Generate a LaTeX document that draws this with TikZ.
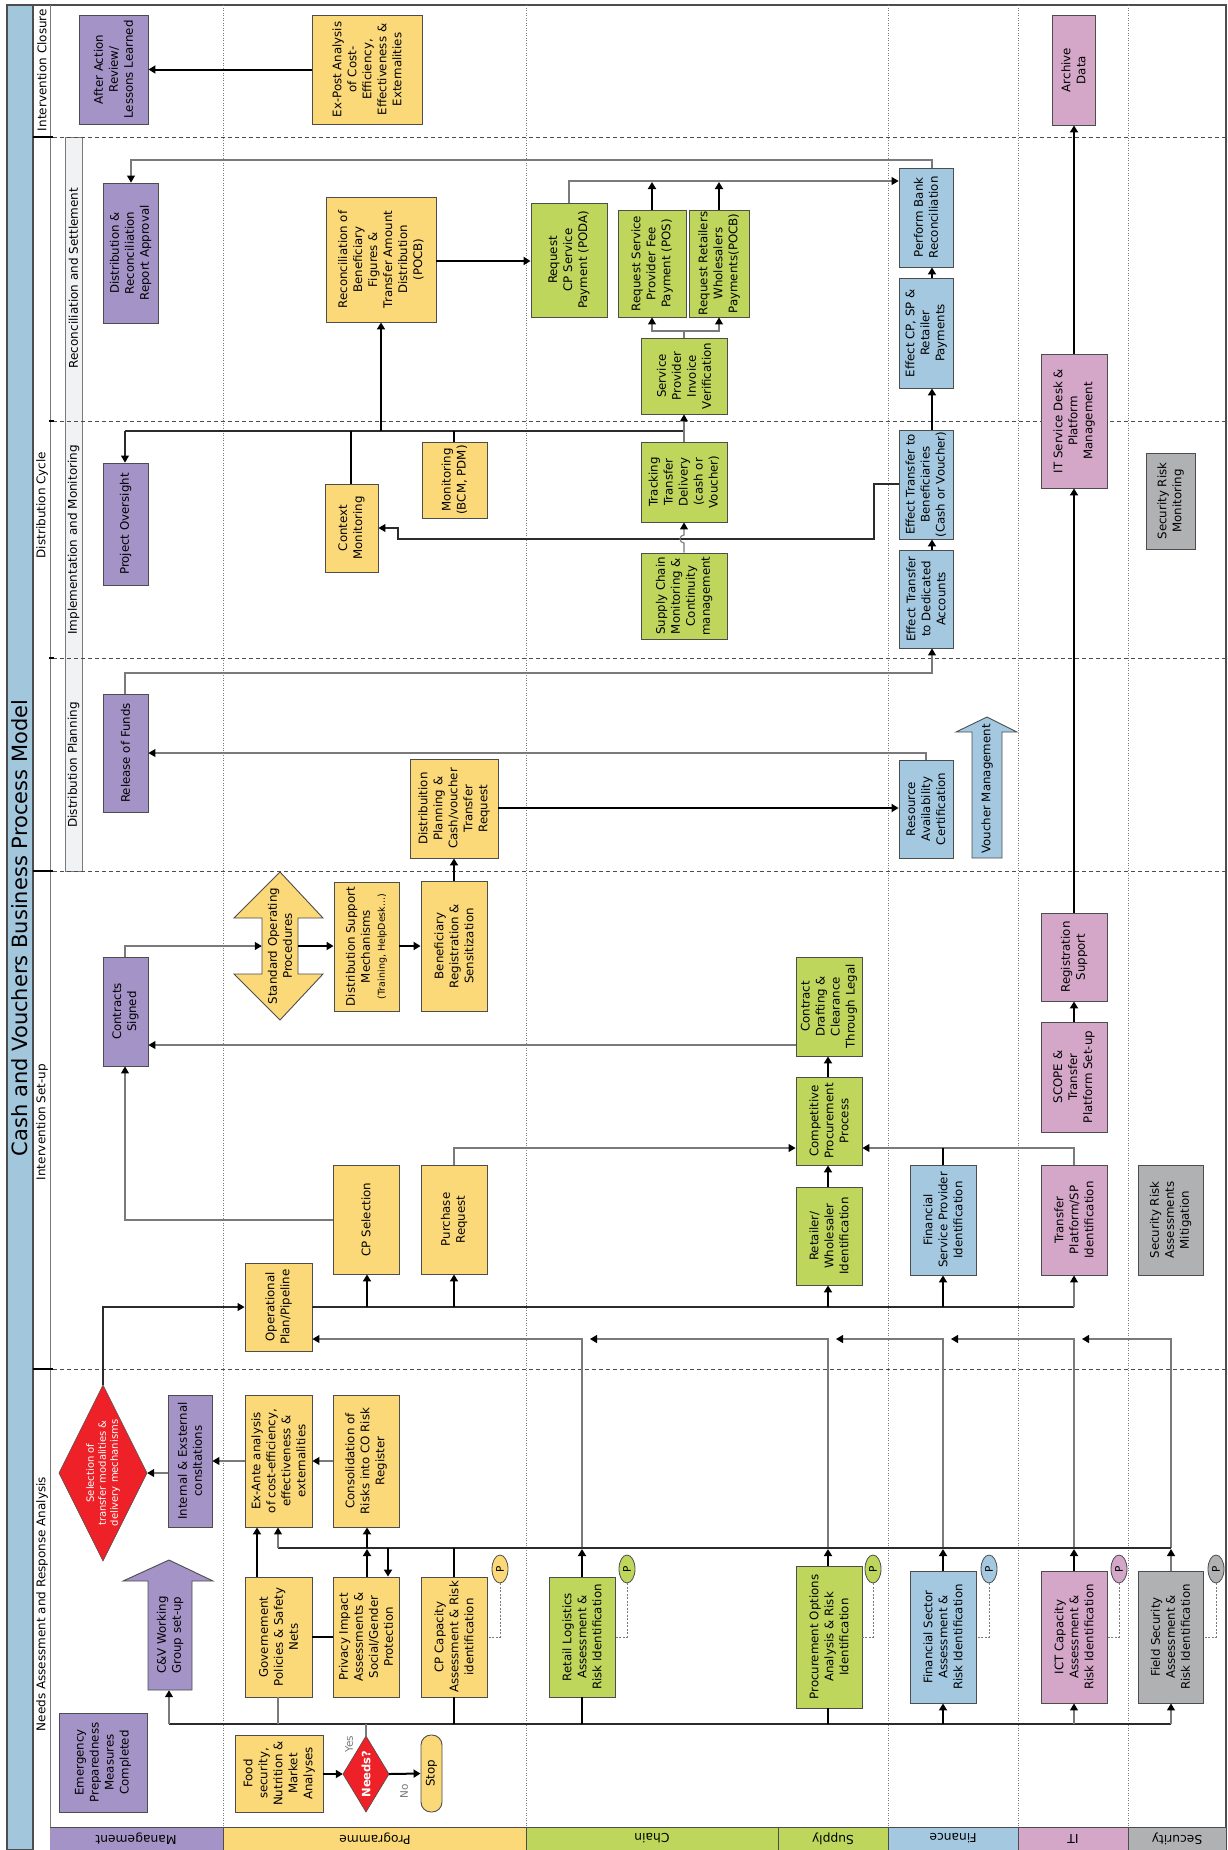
\documentclass[tikz,border=0pt]{standalone}
\usepackage{fontspec}
\setmainfont{DejaVu Sans}
\usetikzlibrary{arrows.meta,shapes.geometric}

\definecolor{cPur}{HTML}{A393C6}
\definecolor{cYel}{HTML}{FBD978}
\definecolor{cGrn}{HTML}{BDD65B}
\definecolor{cBlu}{HTML}{A3C8E0}
\definecolor{cPnk}{HTML}{D4A6C8}
\definecolor{cGry}{HTML}{AFB1B3}
\definecolor{cRed}{HTML}{EE2128}
\definecolor{cTitle}{HTML}{A2C6DC}
\definecolor{cSub}{HTML}{F1F2F4}
\definecolor{cEdge}{HTML}{4D4D4D}
\definecolor{cLine}{HTML}{7A7A7A}
\definecolor{cDark}{HTML}{2B2B2B}

% process box: name, x1, y1, x2, y2 (page pixels, y downwards), fill, text
\newcommand\procbox[7]{%
  \node[box,fill=#6,minimum width={((#5)-(#3))*1pt},minimum height={((#4)-(#2))*1pt}]
    (#1) at ({((#2)+(#4))/2},{((#3)+(#5))/2}) {#7};}

\begin{document}
\begin{tikzpicture}[x=1pt,y=-1pt,
  every node/.style={font=\fontsize{11.8}{15}\selectfont},
  box/.style={draw=cEdge, line width=0.9pt, rotate=90, align=center, inner sep=1pt},
  pel/.style={ellipse, draw=cEdge, line width=0.8pt, rotate=90, minimum width=28pt,
    minimum height=16pt, inner sep=0pt, font=\fontsize{10.5}{12}\selectfont},
  thk/.style={line width=2pt, draw=black},
  arr/.style={thk, -{Triangle[length=7pt,width=8pt]}},
  thn/.style={line width=1.1pt, draw=cDark},
  thnarr/.style={thn, -{Triangle[length=7pt,width=8pt,color=black]}},
  gry/.style={line width=1.1pt, draw=cLine},
  gryarr/.style={gry, -{Triangle[length=7pt,width=8pt,color=black]}},
  pdash/.style={line width=0.9pt, draw=cLine, dash pattern=on 2pt off 1.5pt},
  lanediv/.style={line width=0.9pt, draw=cLine, dash pattern=on 1pt off 1.5pt},
  phasediv/.style={line width=1pt, draw=cEdge, dash pattern=on 4pt off 3pt},
  tick/.style={line width=1.6pt, draw=black},
  phaselbl/.style={rotate=90, font=\fontsize{12}{14}\selectfont},
  lanelbl/.style={rotate=180, font=\fontsize{12.3}{14}\selectfont},
  dmd/.style={fill=cRed, draw=cEdge, line width=0.6pt}
]
\useasboundingbox (0,0) rectangle (1227,1850);
\fill[white] (0,0) rectangle (1227,1850);

% ---------- frame ----------
\fill[cTitle] (7,5) rectangle (33,1850);
\draw[cEdge, line width=1.2pt] (7,5) rectangle (33,1850);
\draw[cEdge, line width=1.2pt] (33,5) -- (1226,5) -- (1226,1850);
\draw[cLine, line width=1pt] (50,5) -- (50,1850);
\filldraw[fill=cSub, draw=cLine, line width=0.9pt] (65,137) rectangle (82,871);

% lane dividers
\foreach \lx in {223,526,888,1018,1128}
  \draw[lanediv] (\lx,5) -- (\lx,1827);

% phase dividers
\foreach \py in {137,421,658,871,1369}
  \draw[phasediv] (53,\py) -- (1226,\py);
\foreach \py in {137,871,1369}
  \draw[tick] (33,\py) -- (53,\py);
\foreach \py in {421,658}
  \draw[tick] (49,\py) -- (54,\py);

% lane label band
\fill[cPur] (50,1827) rectangle (223,1850);
\fill[cYel] (223,1827) rectangle (526,1850);
\fill[cGrn] (526,1827) rectangle (888,1850);
\fill[cBlu] (888,1827) rectangle (1018,1850);
\fill[cPnk] (1018,1827) rectangle (1128,1850);
\fill[cGry] (1128,1827) rectangle (1226,1850);
\draw[cEdge, line width=1pt] (50,1827) -- (1226,1827);
\foreach \lx in {223,526,778,888,1018,1128}
  \draw[cEdge, line width=1pt] (\lx,1827) -- (\lx,1850);

\node[lanelbl] (lnMgmt) at (136,1838.5) {Management};
\node[lanelbl] (lnProg) at (375,1838.5) {Programme};
\node[lanelbl] (lnChain) at (652,1838.5) {Chain};
\node[lanelbl] (lnSupply) at (833,1838.5) {Supply};
\node[lanelbl] (lnFin) at (953,1838.5) {Finance};
\node[lanelbl] (lnIT) at (1073,1838.5) {IT};
\node[lanelbl] (lnSec) at (1177,1838.5) {Security};

% title and phase labels
\node[rotate=90, font=\fontsize{21}{25}\selectfont] (title) at (20,928) {Cash and Vouchers Business Process Model};
\node[phaselbl] (phClose) at (42,70) {Intervention Closure};
\node[phaselbl] (phCycle) at (42,505) {Distribution Cycle};
\node[phaselbl] (phSetup) at (42,1122) {Intervention Set-up};
\node[phaselbl] (phNeeds) at (42,1604) {Needs Assessment and Response Analysis};
\node[phaselbl] (subRec) at (73.5,278) {Reconciliation and Settlement};
\node[phaselbl] (subImp) at (73.5,540) {Implementation and Monitoring};
\node[phaselbl] (subPlan) at (73.5,765) {Distribution Planning};

% ---------- intervention closure ----------
\procbox{aar}{79}{15}{148}{124}{cPur}{After Action\\Review/\\Lessons Learned}
\procbox{expost}{312}{15}{422}{124}{cYel}{Ex-Post Analysis\\of Cost-\\Efficiency,\\Effectiveness \&\\Externalities}
\procbox{archive}{1052}{15}{1095}{125}{cPnk}{Archive\\Data}

% ---------- reconciliation and settlement ----------
\procbox{drra}{103}{183}{158}{323}{cPur}{Distribution \&\\Reconciliation\\Report Approval}
\procbox{recon}{326}{197}{436}{322}{cYel}{Reconciliation of\\Beneficiary\\Figures \&\\Transfer Amount\\Distribution\\(POCB)}
\procbox{reqcp}{531}{203}{607}{317}{cGrn}{Request\\CP Service\\Payment (PODA)}
\procbox{reqsp}{618}{210}{686}{317}{cGrn}{Request Service\\Provider Fee\\Payment (POS)}
\procbox{reqret}{689}{210}{749}{317}{cGrn}{Request Retailers\\Wholesalers\\Payments(POCB)}
\procbox{spiv}{641}{338}{727}{414}{cGrn}{Service\\Provider\\Invoice\\Verification}
\procbox{bank}{899}{168}{953}{267}{cBlu}{Perform Bank\\Reconciliation}
\procbox{effcp}{899}{278}{953}{388}{cBlu}{Effect CP, SP \&\\Retailer\\Payments}
\procbox{itsd}{1041}{354}{1107}{488}{cPnk}{IT Service Desk \&\\Platform\\Management}

% ---------- implementation and monitoring ----------
\procbox{projov}{103}{463}{148}{585}{cPur}{Project Oversight}
\procbox{ctxmon}{325}{484}{378}{572}{cYel}{Context\\Monitoring}
\procbox{monit}{422}{442}{487}{518}{cYel}{Monitoring\\(BCM, PDM)}
\procbox{track}{641}{442}{727}{522}{cGrn}{Tracking\\Transfer\\Delivery\\(cash or\\Voucher)}
\procbox{scm}{641}{553}{727}{639}{cGrn}{Supply Chain\\Monitoring \&\\Continuity\\management}
\procbox{effben}{899}{430}{953}{539}{cBlu}{Effect Transfer to\\Beneficiaries\\(Cash or Voucher)}
\procbox{effded}{899}{550}{953}{648}{cBlu}{Effect Transfer\\to Dedicated\\Accounts}
\procbox{secmon}{1146}{453}{1195}{549}{cGry}{Security Risk\\Monitoring}

% ---------- distribution planning ----------
\procbox{rof}{103}{694}{148}{812}{cPur}{Release of Funds}
\procbox{dplan}{410}{759}{498}{858}{cYel}{Distribuition\\Planning \&\\Cash/voucher\\Transfer\\Request}
\procbox{rac}{899}{760}{953}{858}{cBlu}{Resource\\Availability\\Certification}
\filldraw[fill=cBlu, draw=cEdge, line width=0.9pt]
  (987,717) -- (1017,732) -- (1002,732) -- (1002,858) -- (972,858) -- (972,732) -- (956,732) -- cycle;
\node[rotate=90, inner sep=0pt, minimum width=138pt, minimum height=30pt] (vm) at (987,789) {Voucher Management};

% ---------- intervention set-up ----------
\procbox{contracts}{103}{957}{148}{1066}{cPur}{Contracts\\Signed}
\filldraw[fill=cYel, draw=cEdge, line width=0.9pt]
  (280,872) -- (323,918) -- (298,918) -- (298,974) -- (323,974) -- (280,1020)
  -- (234,974) -- (262,974) -- (262,918) -- (234,918) -- cycle;
\node[rotate=90, align=center, inner sep=0pt, minimum width=148pt, minimum height=36pt] (sop) at (280,946) {Standard Operating\\Procedures};
\procbox{dsm}{334}{882}{399}{1011}{cYel}{Distribution Support\\Mechanisms\\{\fontsize{9.5}{13}\selectfont (Training, HelpDesk...)}}
\procbox{brs}{421}{881}{487}{1011}{cYel}{Beneficiary\\Registration \&\\Sensitization}
\procbox{cdraft}{796}{957}{862}{1056}{cGrn}{Contract\\Drafting \&\\Clearance\\Through Legal}
\procbox{cpp}{796}{1077}{862}{1165}{cGrn}{Competitive\\Procurement\\Process}
\procbox{retwh}{796}{1187}{862}{1285}{cGrn}{Retailer/\\Wholesaler\\Identification}
\procbox{regsup}{1041}{913}{1107}{1001}{cPnk}{Registration\\Support}
\procbox{scope}{1041}{1022}{1107}{1132}{cPnk}{SCOPE \&\\Transfer\\Platform Set-up}
\procbox{opplan}{245}{1263}{312}{1351}{cYel}{Operational\\Plan/Pipeline}
\procbox{cpsel}{333}{1165}{399}{1274}{cYel}{CP Selection}
\procbox{purreq}{421}{1165}{487}{1274}{cYel}{Purchase\\Request}
\procbox{fspi}{910}{1165}{976}{1275}{cBlu}{Financial\\Service Provider\\Identification}
\procbox{tpsp}{1041}{1165}{1107}{1275}{cPnk}{Transfer\\Platform/SP\\Identification}
\procbox{sram}{1138}{1165}{1203}{1275}{cGry}{Security Risk\\Assessments\\Mitigation}

% ---------- needs assessment ----------
% decision diamonds: outline drawn, node spans the diamond's bounding box
\filldraw[dmd] (103,1385) -- (147,1473) -- (103,1561) -- (59,1473) -- cycle;
\node[rotate=90, inner sep=0pt, minimum width=176pt, minimum height=88pt, text=white, align=center,
  font=\fontsize{10}{12}\selectfont]
  (sel) at (103,1473) {Selection of\\transfer modalities \&\\delivery mechanisms};
\procbox{iec}{168}{1395}{212}{1527}{cPur}{Internal \& Exsternal\\consltations}
\filldraw[fill=cPur, draw=cEdge, line width=0.9pt]
  (169,1560) -- (213,1581) -- (192,1581) -- (192,1690) -- (148,1690) -- (148,1581) -- (123,1581) -- cycle;
\node[rotate=90, align=center, inner sep=0pt, minimum width=110pt, minimum height=44pt] (cvwg) at (170,1635) {C\&V Working\\Group set-up};
\procbox{epm}{59}{1713}{147}{1812}{cPur}{Emergency\\Preparedness\\Measures\\Completed}
\procbox{exante}{245}{1395}{312}{1527}{cYel}{Ex-Ante analysis\\of cost-efficiency,\\effectiveness \&\\externalities}
\procbox{cons}{333}{1395}{399}{1527}{cYel}{Consolidation of\\Risks into CO Risk\\Register}
\procbox{gov}{245}{1577}{312}{1697}{cYel}{Governement\\Policies \& Safety\\Nets}
\procbox{pia}{333}{1577}{399}{1697}{cYel}{Privacy Impact\\Assessments \&\\Social/Gender\\Protection}
\procbox{food}{235}{1735}{323}{1812}{cYel}{Food\\security,\\Nutrition \&\\Market\\Analyses}
\filldraw[dmd] (366,1736) -- (389,1774) -- (366,1812) -- (343,1774) -- cycle;
\node[rotate=90, inner sep=0pt, minimum width=76pt, minimum height=46pt, text=white,
  font=\bfseries\fontsize{11.5}{13}\selectfont]
  (needs) at (366,1774) {Needs?};
\node[box, fill=cYel, rounded corners=10pt, minimum width=77pt, minimum height=21pt] (stop) at (431.5,1773.5) {Stop};
\procbox{cpcap}{421}{1577}{487}{1697}{cYel}{CP Capacity\\Assessment \& Risk\\identification}
\procbox{retlog}{549}{1577}{615}{1697}{cGrn}{Retail Logistics\\Assessment \&\\Risk Identification}
\procbox{procopt}{796}{1566}{862}{1708}{cGrn}{Procurement Options\\Analysis \& Risk\\Identification}
\procbox{finsec}{910}{1571}{976}{1703}{cBlu}{Financial Sector\\Assessment \&\\Risk Identification}
\procbox{ict}{1041}{1571}{1107}{1703}{cPnk}{ICT Capacity\\Assessment \&\\Risk Identification}
\procbox{field}{1138}{1571}{1203}{1703}{cGry}{Field Security\\Assessment \&\\Risk Identification}

\node[rotate=90, text=cLine, font=\fontsize{10.5}{12}\selectfont] (lblYes) at (349,1744) {Yes};
\node[rotate=90, text=cLine, font=\fontsize{10.5}{12}\selectfont] (lblNo) at (404,1791) {No};

% P markers with dashed links
\node[pel, fill=cYel] (pA) at (500,1569) {P};
\node[pel, fill=cGrn] (pB) at (627,1569) {P};
\node[pel, fill=cGrn] (pC) at (873,1569) {P};
\node[pel, fill=cBlu] (pD) at (989,1569) {P};
\node[pel, fill=cPnk] (pE) at (1119,1569) {P};
\node[pel, fill=cGry] (pF) at (1216,1569) {P};
\draw[pdash] (pA.west) -- (500,1637) -- (cpcap.south |- 0,1637);
\draw[pdash] (pB.west) -- (627,1637) -- (retlog.south |- 0,1637);
\draw[pdash] (pC.west) -- (873,1637) -- (procopt.south |- 0,1637);
\draw[pdash] (pD.west) -- (989,1637) -- (finsec.south |- 0,1637);
\draw[pdash] (pE.west) -- (1119,1637) -- (ict.south |- 0,1637);
\draw[pdash] (pF.west) -- (1216,1637) -- (field.south |- 0,1637);

% ---------- connectors: closure and reconciliation ----------
\draw[arr] (expost.north) -- (aar.south);
\draw[arr] (itsd.east) -- (itsd.east |- archive.west);
\draw[arr] (recon.south |- 0,261) -- (reqcp.north |- 0,261);
\draw[gryarr] (reqcp.east -| 569,0) -- (569,181) -- (bank.north |- 0,181);
\draw[arr] (reqsp.east -| 652,0) -- (652,182);
\draw[arr] (reqret.east -| 719,0) -- (719,182);
\draw[gry] (spiv.east) -- (684,331);
\draw[gryarr] (684,331) -- (652,331) -- (reqsp.west -| 652,0);
\draw[gryarr] (684,331) -- (719,331) -- (reqret.west -| 719,0);
\draw[gryarr] (bank.east -| 932,0) -- (932,160) -- (131,160) -- (drra.east -| 131,0);
\draw[arr] (effcp.east -| 932,0) -- (bank.west -| 932,0);
\draw[arr] (effben.east -| 932,0) -- (effcp.west -| 932,0);
\draw[arr] (effded.east -| 932,0) -- (effben.west -| 932,0);

% ---------- connectors: implementation and monitoring ----------
\draw[thn] (125,431) -- (684,431);
\draw[thnarr] (125,431) -- (projov.east -| 125,0);
\draw[thk] (351,431) -- (ctxmon.east -| 351,0);
\draw[arr] (381,431) -- (recon.west -| 381,0);
\draw[thk] (454,431) -- (monit.east -| 454,0);
\draw[gryarr] (track.east) -- (spiv.west);
\draw[thnarr] (effben.north |- 0,484) -- (874,484) -- (874,539) -- (398,539) -- (398,528) -- (ctxmon.south |- 0,528);
\draw[gryarr] (scm.east) -- (684,543) arc[start angle=270, end angle=90, radius=4pt] -- (track.west);

% ---------- connectors: distribution planning ----------
\draw[gryarr] (rac.east -| 926,0) -- (926,753) -- (rof.south |- 0,753);
\draw[gryarr] (rof.east -| 125,0) -- (125,673) -- (932,673) -- (effded.west -| 932,0);
\draw[arr] (dplan.south |- 0,808) -- (rac.north |- 0,808);
\draw[arr] (brs.east -| 454,0) -- (dplan.west -| 454,0);

% ---------- connectors: intervention set-up ----------
\draw[gryarr] (contracts.east -| 125,0) -- (125,946) -- (sop.north |- 0,946);
\draw[arr] (sop.south |- 0,946) -- (dsm.north |- 0,946);
\draw[arr] (dsm.south |- 0,946) -- (brs.north |- 0,946);
\draw[gryarr] (cdraft.north |- 0,1045) -- (contracts.south |- 0,1045);
\draw[gryarr] (cpsel.north |- 0,1220) -- (125,1220) -- (contracts.west -| 125,0);
\draw[arr] (retwh.east -| 828,0) -- (cpp.west -| 828,0);
\draw[arr] (cpp.east -| 828,0) -- (cdraft.west -| 828,0);
\draw[gryarr] (purreq.east -| 454,0) -- (454,1148) -- (cpp.north |- 0,1148);
\draw[gryarr] (tpsp.east -| 1074,0) -- (1074,1148) -- (cpp.south |- 0,1148);
\draw[thk] (fspi.east -| 943,0) -- (943,1148);
\draw[arr] (scope.east) -- (regsup.west);
\draw[arr] (regsup.east) -- (itsd.west);
\draw[thn] (opplan.south |- 0,1307) -- (1074,1307);
\draw[arr] (367,1307) -- (cpsel.west -| 367,0);
\draw[arr] (454,1307) -- (purreq.west -| 454,0);
\draw[arr] (828,1307) -- (retwh.west -| 828,0);
\draw[arr] (943,1307) -- (fspi.west -| 943,0);
\draw[gryarr] (1074,1307) -- (tpsp.west -| 1074,0);
\draw[thnarr] (sel.east) -- (103,1307) -- (opplan.north |- 0,1307);

% feedback from the assessments to the operational plan
\draw[gryarr] (582,1548) -- (582,1339) -- (opplan.south |- 0,1339);
\draw[gryarr] (828,1548) -- (828,1339) -- (590,1339);
\draw[gryarr] (943,1548) -- (943,1339) -- (836,1339);
\draw[gryarr] (1074,1548) -- (1074,1339) -- (951,1339);
\draw[gryarr] (1171,1548) -- (1171,1339) -- (1082,1339);

% ---------- connectors: needs assessment ----------
\draw[gryarr] (iec.north |- 0,1473) -- (sel.south);
\draw[gryarr] (exante.north |- 0,1461) -- (iec.south |- 0,1461);
\draw[gryarr] (cons.north |- 0,1461) -- (exante.south |- 0,1461);
\draw[arr] (gov.east -| 257,0) -- (exante.west -| 257,0);
\draw[thk] (gov.south |- 0,1637) -- (pia.north |- 0,1637);
\draw[thn] (278,1548) -- (1171,1548);
\draw[gryarr] (278,1548) -- (exante.west -| 278,0);
\draw[arr] (pia.east -| 367,0) -- (367,1549);
\draw[arr] (367,1548) -- (cons.west -| 367,0);
\draw[arr] (388,1548) -- (pia.east -| 388,0);
\draw[thk] (cpcap.east -| 454,0) -- (454,1548);
\draw[arr] (retlog.east -| 582,0) -- (582,1549);
\draw[arr] (procopt.east -| 828,0) -- (828,1549);
\draw[arr] (finsec.east -| 943,0) -- (943,1549);
\draw[arr] (ict.east -| 1074,0) -- (1074,1549);
\draw[gryarr] (field.east -| 1171,0) -- (1171,1549);

\draw[thn] (169,1724) -- (1171,1724);
\draw[gryarr] (169,1724) -- (cvwg.west -| 169,0);
\draw[gry] (278,1724) -- (gov.west -| 278,0);
\draw[gry] (needs.east) -- (366,1724);
\draw[thk] (454,1724) -- (cpcap.west -| 454,0);
\draw[thk] (582,1724) -- (retlog.west -| 582,0);
\draw[thk] (828,1724) -- (procopt.west -| 828,0);
\draw[arr] (943,1724) -- (finsec.west -| 943,0);
\draw[gryarr] (1074,1724) -- (ict.west -| 1074,0);
\draw[gryarr] (1171,1724) -- (field.west -| 1171,0);

\draw[arr] (food.south |- 0,1774) -- (needs.north);
\draw[arr] (needs.south) -- (stop.north);
\end{tikzpicture}
\end{document}
